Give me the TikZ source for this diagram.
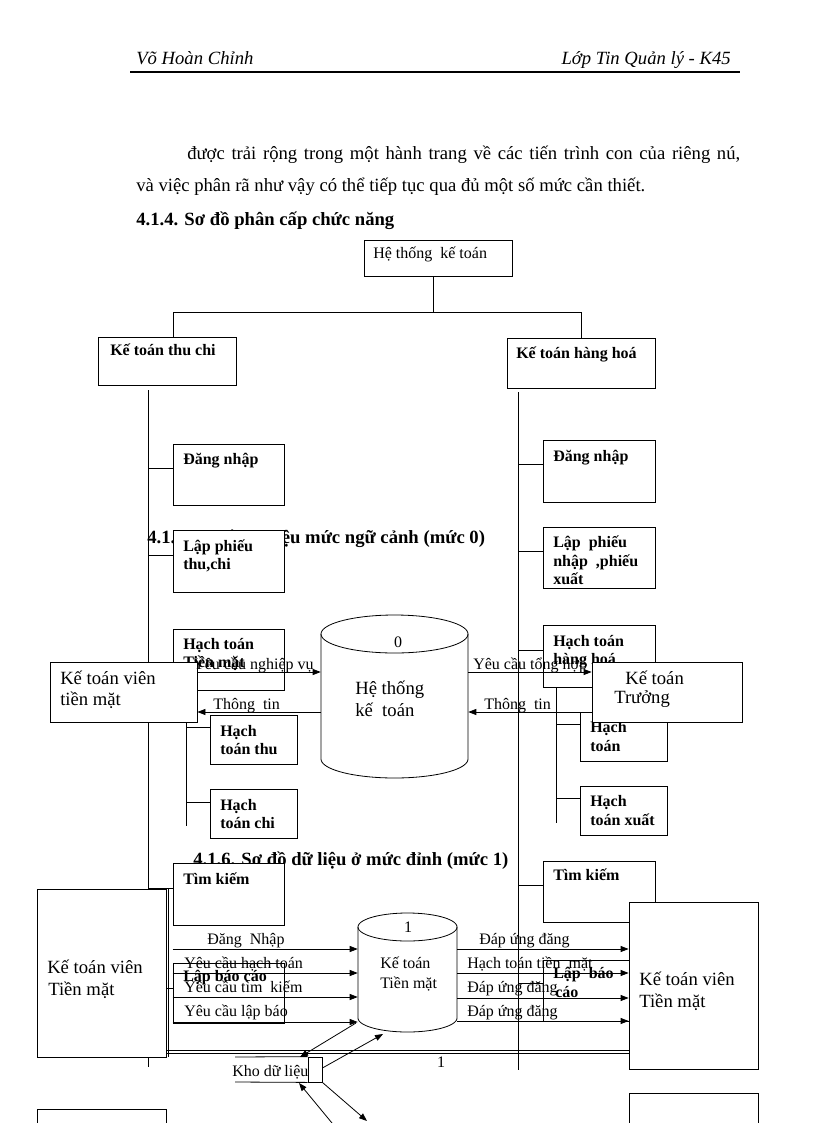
\documentclass[tikz,border=0pt]{standalone}
\usepackage{fontspec}
\setmainfont{Liberation Serif}
\usetikzlibrary{arrows.meta,fit}
\newcommand\fA{\fontsize{14pt}{16pt}\selectfont}
\newcommand\fB{\fontsize{12pt}{14pt}\selectfont}
\tikzset{
 ln/.style={line width=0.6pt},
 bx/.style={draw, fill=white, line width=0.6pt, inner sep=0pt, rectangle},
 tx/.style={anchor=base west, inner sep=0pt, font=\fB},
 tb/.style={anchor=base west, inner sep=0pt, font=\fB\bfseries},
 tbig/.style={anchor=base west, inner sep=0pt, font=\fA},
 arr/.style={line width=0.6pt, -{Triangle[length=6pt,width=4.5pt]}},
}
\begin{document}
\begin{tikzpicture}[x=0.75pt,y=-0.75pt]
\fill[white] (0,0) rectangle (816,1123);
\useasboundingbox (0,0) rectangle (816,1123);
% header
\node[anchor=base west, inner sep=0pt, font=\fA\itshape] (hl) at (136,65) {Võ Hoàn Chỉnh};
\node[anchor=base east, inner sep=0pt, font=\fA\itshape] (hr) at (731,65) {Lớp Tin Quản lý - K45};
\draw[line width=1.5pt] (130,72) -- (740,72);
% body
\node[tbig] (p1) at (187,160) {\makebox[414.75pt][s]{được trải rộng trong một hành trang về các tiến trình con của riêng nú,}};
\node[tbig] (p2) at (136,192) {và việc phân rã như vậy có thể tiếp tục qua đủ một số mức cần thiết.};
\node[tbig, font=\fA\bfseries] (h414) at (136,225) {4.1.4. Sơ đồ phân cấp chức năng};
% tree top
\node[bx, fit={(364,240)(512,276)}] (root) {};
\node[tx] (troot) at (373,258) {Hệ thống\ \ kế toán};
\node[bx, fit={(98,337)(236,385)}] (ktc) {};
\node[tb] (tktc) at (110,355) {Kế toán thu chi};
\node[bx, fit={(507,338)(655,388)}] (kth) {};
\node[tb] (tkth) at (516,358) {Kế toán hàng hoá};
\draw[ln] (root.south -| 433,0) -- (433,312);
\draw[ln] (ktc.north -| 173,0) -- (173,312) -- (581,312) -- (kth.north -| 581,0);
% verticals
\draw[ln] (148,390) -- (148,1067);
\draw[ln] (518,392) -- (518,1070);
% heading 4.1.5
\node[tbig, font=\fA\bfseries] (h415) at (147,543) {4.1.5. Sơ đồ dữ liệu mức ngữ cảnh (mức 0)};
% left column
\node[bx, fit={(173,444)(284,505)}] (ldn) {};
\node[tb] (tldn) at (183,464) {Đăng nhập};
\draw[ln] (148,468) -- (ldn.west |- 0,468);
\node[bx, fit={(173,530)(284,592)}] (llp) {};
\node[tb] (tllp1) at (183,551) {Lập phiếu};
\node[tb] (tllp2) at (183,569) {thu,chi};
\draw[ln] (148,555) -- (llp.west |- 0,555);
\node[bx, fit={(173,629)(284,690)}] (lht) {};
\node[tb] (tlht1) at (183,649) {Hạch toán};
\node[tb] (tlht2) at (183,667) {Tiền mặt};
\draw[ln] (148,680) -- (lht.west |- 0,680);
\draw[ln] (lht.south -| 186,0) -- (186,826);
\node[bx, fit={(210,715)(297,764)}] (lthu) {};
\node[tb] (tlthu1) at (220,736) {Hạch};
\node[tb] (tlthu2) at (220,754) {toán thu};
\draw[ln] (186,727) -- (lthu.west |- 0,727);
\node[bx, fit={(210,789)(297,838)}] (lchi) {};
\node[tb] (tlchi1) at (220,810) {Hạch};
\node[tb] (tlchi2) at (220,828) {toán chi};
\draw[ln] (186,802) -- (lchi.west |- 0,802);
% right column
\node[bx, fit={(543,440)(655,502)}] (rdn) {};
\node[tb] (trdn) at (553,461) {Đăng nhập};
\draw[ln] (518,464) -- (rdn.west |- 0,464);
\node[bx, fit={(543,527)(655,588)}] (rlp) {};
\node[tb] (trlp1) at (553,547) {Lập\ \ phiếu};
\node[tb] (trlp2) at (553,566) {nhập\ \ ,phiếu};
\node[tb] (trlp3) at (553,584) {xuất};
\draw[ln] (518,551) -- (rlp.west |- 0,551);
\node[bx, fit={(543,625)(655,687)}] (rht) {};
\node[tb] (trht1) at (553,646) {Hạch toán};
\node[tb] (trht2) at (553,664) {hàng hoá};
\draw[ln] (518,650) -- (rht.west |- 0,650);
\draw[ln] (rht.south -| 556,0) -- (556,823);
\node[bx, fit={(580,712)(667,761)}] (rnh) {};
\node[tb] (trnh1) at (590,732) {Hạch};
\node[tb] (trnh2) at (590,751) {toán};
\draw[ln] (556,724) -- (rnh.west |- 0,724);
\node[bx, fit={(580,786)(667,835)}] (rxu) {};
\node[tb] (trxu1) at (590,806) {Hạch};
\node[tb] (trxu2) at (590,825) {toán xuất};
\draw[ln] (556,798) -- (rxu.west |- 0,798);
% cylinder 0
\filldraw[ln, fill=white] (321,634) -- (321,759) -- plot[domain=180:360, samples=40] ({394.5+73.5*cos(\x)},{759-19*sin(\x)}) -- (468,634) -- plot[domain=0:180, samples=40] ({394.5+73.5*cos(\x)},{634-19*sin(\x)}) -- cycle;
\draw[ln] plot[domain=180:360, samples=40] ({394.5+73.5*cos(\x)},{634-19*sin(\x)});
\node[fit={(321,615)(468,778)}, inner sep=0pt] (cyl0) {};
\node[anchor=base, inner sep=0pt, font=\fB] (tc0n) at (398,647) {0};
\node[tbig] (tc01) at (355,694) {Hệ thống};
\node[tbig] (tc02) at (355,716) {kế\ \ toán};
% external entities level 0
\node[bx, fit={(50,662)(197,722)}] (kv0) {};
\node[tbig] (tkv01) at (60,684) {Kế toán viên};
\node[tbig] (tkv02) at (60,705) {tiền mặt};
\node[bx, fit={(592,662)(742,722)}] (ktt) {};
\node[tbig] (tktt1) at (625,684) {Kế toán};
\node[tbig] (tktt2) at (614,703) {Trưởng};
\draw[arr] (kv0.east |- 0,672) -- (cyl0.west |- 0,672);
\node[anchor=base east, inner sep=0pt, font=\fB] (l01) at (314,669) {Yêu cầu nghiệp vụ};
\draw[arr] (cyl0.west |- 0,712) -- (kv0.east |- 0,712);
\node[tx] (l02) at (213,709) {Thông\ \ tin};
\draw[arr] (cyl0.east |- 0,672) -- (ktt.west |- 0,672);
\node[tx] (l03) at (473,669) {Yêu cầu tổng hợp};
\draw[arr] (ktt.west |- 0,712) -- (cyl0.east |- 0,712);
\node[tx] (l04) at (484,709) {Thông\ \ tin};
% heading 4.1.6
\node[tbig, font=\fA\bfseries] (h416) at (193,865) {4.1.6. Sơ đồ dữ liệu ở mức đỉnh (mức 1)};
\node[bx, fit={(173,863)(284,925)}] (ltk) {};
\node[tb] (tltk) at (183,884) {Tìm kiếm};
\draw[ln] (148,888) -- (ltk.west |- 0,888);
\node[bx, fit={(543,861)(655,922)}] (rtk) {};
\node[tb] (trtk) at (553,880) {Tìm kiếm};
\draw[ln] (518,885) -- (rtk.west |- 0,885);
\node[bx, fit={(173,963)(284,1023)}] (llb) {};
\node[tb] (tllb) at (183,981) {Lập báo cáo};
\draw[ln] (148,988) -- (llb.west |- 0,988);
\node[bx, fit={(543,960)(655,1021)}] (rlb) {};
\node[tb] (trlb1) at (553,978) {Lập\ \ báo};
\node[tb] (trlb2) at (555,997) {cáo};
\draw[ln] (518,983) -- (rlb.west |- 0,983);
% cylinder 1
\filldraw[ln, fill=white] (358,927) -- (358,1018) -- plot[domain=180:360, samples=40] ({407.5+49.5*cos(\x)},{1018-14*sin(\x)}) -- (457,927) -- plot[domain=0:180, samples=40] ({407.5+49.5*cos(\x)},{927-14*sin(\x)}) -- cycle;
\draw[ln] plot[domain=180:360, samples=40] ({407.5+49.5*cos(\x)},{927-14*sin(\x)});
\node[fit={(358,913)(457,1032)}, inner sep=0pt] (cyl1) {};
\node[anchor=base, inner sep=0pt, font=\fB] (tc1n) at (408,932) {1};
\node[tx] (tc11) at (380,968) {Kế toán};
\node[tx] (tc12) at (380,988) {Tiền mặt};
% entities level 1
\node[bx, fit={(37,889)(166,1057)}] (kv1l) {};
\draw[ln] (168,889) -- (168,1057);
\node[tbig] (tkv1l1) at (47,973) {Kế toán viên};
\node[tbig] (tkv1l2) at (48,995) {Tiền mặt};
\node[bx, fit={(629,902)(758,1069)}] (kv1r) {};
\node[tbig] (tkv1r1) at (639,985) {Kế toán viên};
\node[tbig] (tkv1r2) at (639,1007) {Tiền mặt};
% flows level 1 left
\draw[arr] (ltk.south west |- 0,949) -- (cyl1.west |- 0,949);
\draw[arr] (ltk.south west |- 0,973) -- (cyl1.west |- 0,973);
\draw[arr] (ltk.south west |- 0,997) -- (cyl1.west |- 0,997);
\draw[arr] (ltk.south west |- 0,1022) -- (cyl1.west |- 0,1022);
\node[tx] (f1) at (207,944) {Đăng\ \ Nhập};
\node[tx] (f2) at (184,968) {Yêu cầu hạch toán};
\node[tx] (f3) at (184,992) {Yêu cầu tìm\ \ kiếm};
\node[tx] (f4) at (184,1016) {Yêu cầu lập báo};
% flows level 1 right
\draw[arr] (cyl1.east |- 0,949) -- (kv1r.west |- 0,949);
\draw[arr] (cyl1.east |- 0,973) -- (kv1r.west |- 0,973);
\draw[arr] (cyl1.east |- 0,998) -- (kv1r.west |- 0,998);
\draw[arr] (cyl1.east |- 0,1021) -- (kv1r.west |- 0,1021);
\node[tx] (g1) at (479,944) {Đáp ứng đăng};
\node[tx] (g2) at (467,968) {Hạch toán tiền\ \ mặt};
\node[tx] (g3) at (467,992) {Đáp ứng đăng};
\node[tx] (g4) at (467,1016) {Đáp ứng đăng};
% double line
\draw[ln] (kv1l.east |- 0,1050) -- (kv1r.west |- 0,1050);
\draw[ln] (kv1l.east |- 0,1053) -- (kv1r.west |- 0,1053);
\node[anchor=base, inner sep=0pt, font=\fB] (one) at (441,1067) {1};
% data store
\node[bx, fit={(308,1057)(322,1082)}] (kho) {};
\draw[ln] (235,1057) -- (kho.north west);
\draw[ln] (235,1082) -- (kho.south west);
\node[tx] (tkho) at (232,1076) {Kho dữ liệu};
\coordinate (kin) at (300,1057);
\coordinate (cout) at (356,1023);
\coordinate (cin) at (383,1034);
\coordinate (kbot) at (299,1083);
\coordinate (b1) at (332,1123);
\coordinate (b2) at (367,1121);
\draw[arr] (cout) -- (kin);
\draw[arr] (kho.east |- 0,1068) -- (cin);
\draw[arr] (b1) -- (kbot);
\draw[arr] (kho.south east) -- (b2);
% bottom cut boxes
\draw[ln] (37,1123) -- (37,1109) -- (166,1109) -- (166,1123);
\draw[ln] (629,1123) -- (629,1093) -- (758,1093) -- (758,1123);
\end{tikzpicture}
\end{document}
